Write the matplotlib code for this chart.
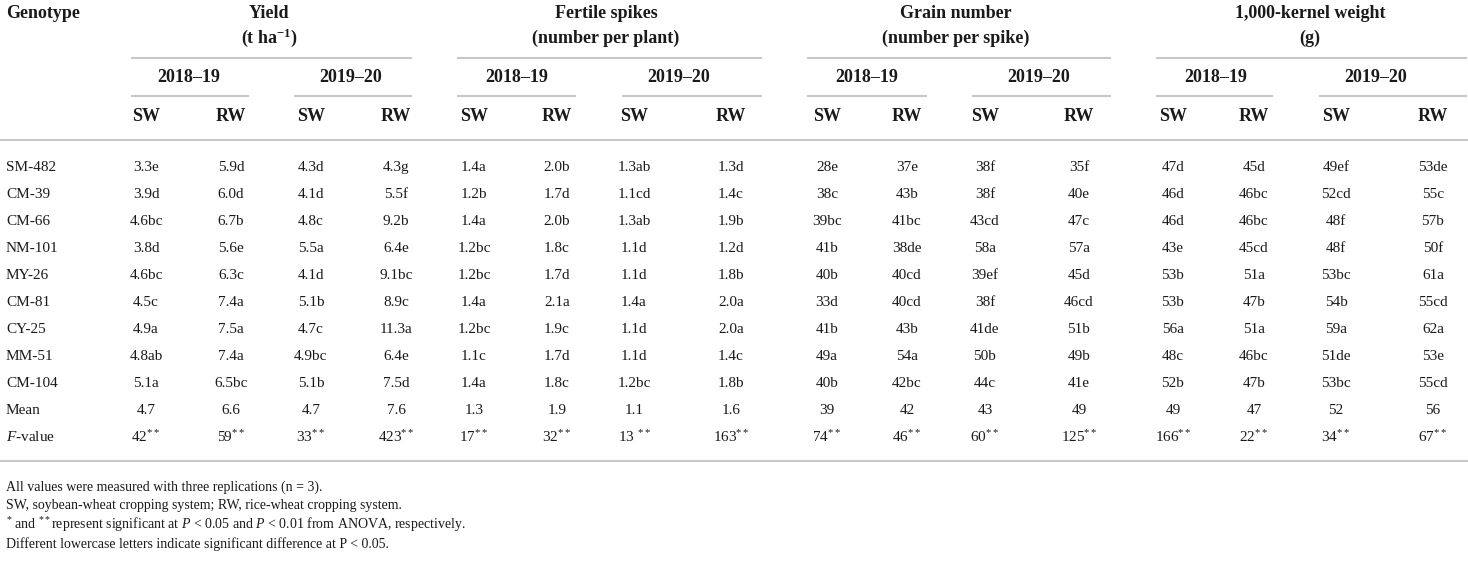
import matplotlib
matplotlib.use("Agg")
import matplotlib.pyplot as plt

# Fuente tipo Times para imitar la tabla del artículo
plt.rcParams['font.family'] = ['Liberation Serif', 'DejaVu Serif']
plt.rcParams['mathtext.fontset'] = 'custom'
plt.rcParams['mathtext.rm'] = 'Liberation Serif'
plt.rcParams['mathtext.it'] = 'Liberation Serif:italic'
plt.rcParams['mathtext.bf'] = 'Liberation Serif:bold'

# Datos de la tabla
genotipos = ["SM-482", "CM-39", "CM-66", "NM-101", "MY-26", "CM-81",
             "CY-25", "MM-51", "CM-104", "Mean", r"$F$-value"]

rasgos = ["Yield", "Fertile spikes", "Grain number", "1,000-kernel weight"]
unidades = [r"(t ha$^{\mathbf{-1}}$)", "(number per plant)", "(number per spike)", "(g)"]
temporadas = ["2018–19", "2019–20"]
sistemas = ["SW", "RW"]

# columnas: 2018-19 SW, 2018-19 RW, 2019-20 SW, 2019-20 RW
rendimiento = [
    ["3.3e", "5.9d", "4.3d", "4.3g"],
    ["3.9d", "6.0d", "4.1d", "5.5f"],
    ["4.6bc", "6.7b", "4.8c", "9.2b"],
    ["3.8d", "5.6e", "5.5a", "6.4e"],
    ["4.6bc", "6.3c", "4.1d", "9.1bc"],
    ["4.5c", "7.4a", "5.1b", "8.9c"],
    ["4.9a", "7.5a", "4.7c", "11.3a"],
    ["4.8ab", "7.4a", "4.9bc", "6.4e"],
    ["5.1a", "6.5bc", "5.1b", "7.5d"],
    ["4.7", "6.6", "4.7", "7.6"],
    ["42$^{**}$", "59$^{**}$", "33$^{**}$", "423$^{**}$"],
]
espigas = [
    ["1.4a", "2.0b", "1.3ab", "1.3d"],
    ["1.2b", "1.7d", "1.1cd", "1.4c"],
    ["1.4a", "2.0b", "1.3ab", "1.9b"],
    ["1.2bc", "1.8c", "1.1d", "1.2d"],
    ["1.2bc", "1.7d", "1.1d", "1.8b"],
    ["1.4a", "2.1a", "1.4a", "2.0a"],
    ["1.2bc", "1.9c", "1.1d", "2.0a"],
    ["1.1c", "1.7d", "1.1d", "1.4c"],
    ["1.4a", "1.8c", "1.2bc", "1.8b"],
    ["1.3", "1.9", "1.1", "1.6"],
    ["17$^{**}$", "32$^{**}$", "13 $^{**}$", "163$^{**}$"],
]
granos = [
    ["28e", "37e", "38f", "35f"],
    ["38c", "43b", "38f", "40e"],
    ["39bc", "41bc", "43cd", "47c"],
    ["41b", "38de", "58a", "57a"],
    ["40b", "40cd", "39ef", "45d"],
    ["33d", "40cd", "38f", "46cd"],
    ["41b", "43b", "41de", "51b"],
    ["49a", "54a", "50b", "49b"],
    ["40b", "42bc", "44c", "41e"],
    ["39", "42", "43", "49"],
    ["74$^{**}$", "46$^{**}$", "60$^{**}$", "125$^{**}$"],
]
peso = [
    ["47d", "45d", "49ef", "53de"],
    ["46d", "46bc", "52cd", "55c"],
    ["46d", "46bc", "48f", "57b"],
    ["43e", "45cd", "48f", "50f"],
    ["53b", "51a", "53bc", "61a"],
    ["53b", "47b", "54b", "55cd"],
    ["56a", "51a", "59a", "62a"],
    ["48c", "46bc", "51de", "53e"],
    ["52b", "47b", "53bc", "55cd"],
    ["49", "47", "52", "56"],
    ["166$^{**}$", "22$^{**}$", "34$^{**}$", "67$^{**}$"],
]
tablas = [rendimiento, espigas, granos, peso]

notas = [
    "All values were measured with three replications (n = 3).",
    "SW, soybean-wheat cropping system; RW, rice-wheat cropping system.",
    r"$^{*}$ and $^{**}$represent significant at $P$ < 0.05 and $P$ < 0.01 from ANOVA, respectively.",
    "Different lowercase letters indicate significant difference at P < 0.05.",
]

# Posiciones (en pixeles) de cada columna
col_x = [[146, 231, 311, 396],
         [474, 557, 634, 731],
         [827, 907, 985, 1079],
         [1173, 1254, 1336, 1433]]
titulo_x = [269, 606, 956, 1310]
grupo_lineas = [(132, 411), (458, 761), (808, 1110), (1157, 1466)]
anio_lineas = [[(132, 248), (295, 411)],
               [(458, 575), (623, 761)],
               [(808, 926), (973, 1110)],
               [(1157, 1272), (1320, 1466)]]
anio_x = [[189, 351], [517, 679], [867, 1039], [1216, 1376]]

color_txt = "#1a1a1a"
color_linea = "#c8c8c8"
fs = 11
fs_enc = 13

fig = plt.figure(figsize=(14.68, 5.69), dpi=100)
ax = fig.add_axes([0, 0, 1, 1])
ax.set_xlim(0, 1468)
ax.set_ylim(569, 0)
ax.axis("off")

# Encabezados
ax.text(6, 13, "Genotype", fontsize=fs_enc, fontweight="bold", color=color_txt, va="center")
for i in range(4):
    ax.text(titulo_x[i], 13, rasgos[i], fontsize=fs_enc, fontweight="bold",
            color=color_txt, ha="center", va="center")
    ax.text(titulo_x[i], 38, unidades[i], fontsize=fs_enc, fontweight="bold",
            color=color_txt, ha="center", va="center")
    ax.plot(grupo_lineas[i], [58, 58], color=color_linea, lw=1.5)
    for j in range(2):
        ax.text(anio_x[i][j], 77, temporadas[j], fontsize=fs_enc, fontweight="bold",
                color=color_txt, ha="center", va="center")
        ax.plot(anio_lineas[i][j], [96, 96], color=color_linea, lw=1.5)
        for k in range(2):
            ax.text(col_x[i][j * 2 + k], 116, sistemas[k], fontsize=fs_enc,
                    fontweight="bold", color=color_txt, ha="center", va="center")

ax.plot([0, 1468], [140, 140], color=color_linea, lw=1.5)

# Filas de datos
fila_y0 = 167
paso = 27
for r, g in enumerate(genotipos):
    y = fila_y0 + r * paso
    ax.text(6, y, g, fontsize=fs, color=color_txt, va="center")
    for i, tabla in enumerate(tablas):
        for c in range(4):
            ax.text(col_x[i][c], y, tabla[r][c], fontsize=fs, color=color_txt,
                    ha="center", va="center")

ax.plot([0, 1468], [461, 461], color=color_linea, lw=1.5)

# Notas al pie
for n, nota in enumerate(notas):
    ax.text(6, 487 + n * 19, nota, fontsize=10, color=color_txt, va="center")

fig.savefig("out.png", dpi=100)
